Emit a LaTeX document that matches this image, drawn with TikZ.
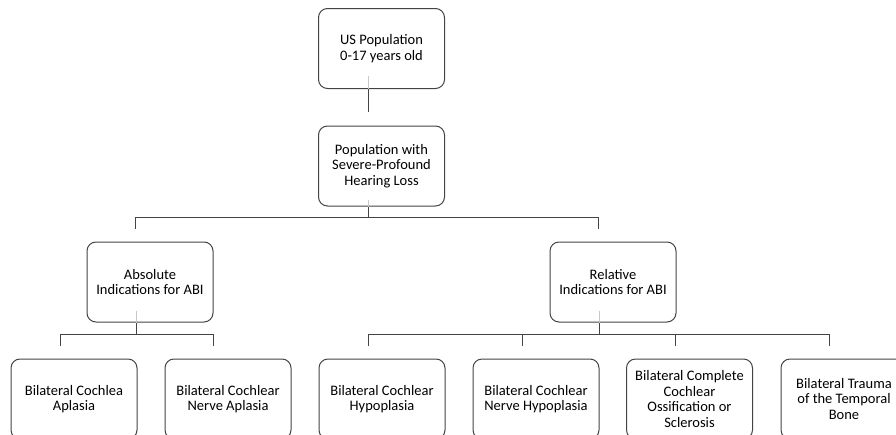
\documentclass[tikz,border=0pt]{standalone}
\usepackage{fontspec}
\setmainfont{Carlito}
\usetikzlibrary{calc}
\definecolor{edgegray}{HTML}{444444}
\definecolor{fadegray}{HTML}{C8C8C8}
\tikzset{
  box/.style={draw=edgegray, line width=1pt, rounded corners=9pt, fill=white,
    minimum width=126pt, minimum height=80pt, align=center, inner sep=2pt,
    font=\fontsize{14.5pt}{15.4pt}\selectfont, text=black},
  conn/.style={draw=edgegray, line width=1pt},
  faint/.style={draw=fadegray, line width=1pt}
}
\begin{document}
\begin{tikzpicture}[x=1pt,y=-1pt]
\useasboundingbox (0,0) rectangle (896,434);
\clip (0,0) rectangle (896,434);
% nodes
\node[box] (top) at (381.5,48.5) {US Population\\0-17 years old};
\node[box] (pop) at (381.5,166) {Population with\\Severe-Profound\\Hearing Loss};
\node[box] (abs) at (150,282) {Absolute\\Indications for ABI};
\node[box] (rel) at (613,282) {Relative\\Indications for ABI};
\node[box] (b1) at (74,399) {Bilateral Cochlea\\Aplasia};
\node[box] (b2) at (228,399) {Bilateral Cochlear\\Nerve Aplasia};
\node[box] (b3) at (382,399) {Bilateral Cochlear\\Hypoplasia};
\node[box] (b4) at (536,399) {Bilateral Cochlear\\Nerve Hypoplasia};
\node[box] (b5) at (689.5,399) {Bilateral Complete\\Cochlear\\Ossification or\\Sclerosis};
\node[box] (b6) at (844,399) {Bilateral Trauma\\of the Temporal\\Bone};
% top -> pop
\draw[faint] ($(top.south)+(-13.5,-13)$) -- ($(top.south)+(-13.5,0)$);
\draw[conn] ($(top.south)+(-13.5,0)$) -- ($(pop.north)+(-13.5,-14)$);
% pop -> abs, rel
\coordinate (pj) at ($(pop.south)+(-13.5,11)$);
\draw[faint] ($(pop.south)+(-13.5,-7)$) -- ($(pop.south)+(-13.5,0)$);
\draw[conn] ($(pop.south)+(-13.5,0)$) -- (pj);
\draw[conn] ($(abs.north)+(-15,-13)$) |- (pj) -| ($(rel.north)+(-15,-13)$);
% abs -> b1, b2
\coordinate (aj) at ($(abs.south)+(-14,12)$);
\draw[faint] ($(abs.south)+(-14,-12)$) -- ($(abs.south)+(-14,0)$);
\draw[conn] ($(abs.south)+(-14,0)$) -- (aj);
\draw[conn] ($(b1.north)+(-14,-13)$) |- (aj) -| ($(b2.north)+(-15,-13)$);
% rel -> b3..b6
\coordinate (rj) at ($(rel.south)+(-14,12)$);
\draw[faint] ($(rel.south)+(-14,-12)$) -- ($(rel.south)+(-14,0)$);
\draw[conn] ($(rel.south)+(-14,0)$) -- (rj);
\draw[conn] ($(b3.north)+(-14,-13)$) |- (rj) -| ($(b6.north)+(-14.5,-13)$);
\draw[conn] ($(b4.north)+(-14,-13)$) -- ($(b4.north)+(-14,-25)$);
\draw[conn] ($(b5.north)+(-14.5,-13)$) -- ($(b5.north)+(-14.5,-25)$);
\end{tikzpicture}
\end{document}
